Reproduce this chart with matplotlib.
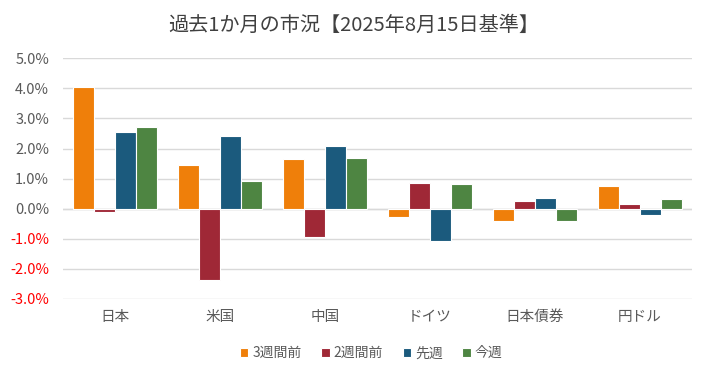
import numpy as np
import matplotlib.pyplot as plt
from matplotlib.ticker import FuncFormatter

plt.rcParams['font.family'] = ['Noto Sans CJK JP', 'DejaVu Sans']

# データ（%）
categories = ['日本', '米国', '中国', 'ドイツ', '日本債券', '円ドル']
series_names = ['3週間前', '2週間前', '先週', '今週']
week3 = [4.06, 1.44, 1.66, -0.29, -0.40, 0.76]
week2 = [-0.10, -2.38, -0.95, 0.85, 0.25, 0.17]
week1 = [2.54, 2.40, 2.10, -1.07, 0.35, -0.20]
week0 = [2.73, 0.93, 1.68, 0.81, -0.40, 0.33]
colors = ['#ef7f0a', '#9f2836', '#1b5a7d', '#4e8542']

fig = plt.figure(figsize=(7.07, 3.76), dpi=100)
ax = fig.add_axes([0.089, 0.205, 0.89, 0.64])

x = np.arange(len(categories))
w = 0.2
for i, (vals, name, c) in enumerate(zip([week3, week2, week1, week0], series_names, colors)):
    ax.bar(x + (i - 1.5) * w, vals, width=w, color=c, edgecolor='white',
           linewidth=0.8, label=name, zorder=3)

ax.set_xlim(-0.5, len(categories) - 0.5)
ax.set_ylim(-3, 5)
ax.set_yticks(np.arange(-3, 6, 1))
ax.yaxis.set_major_formatter(FuncFormatter(lambda v, p: f'{v:.1f}%'))
ax.grid(axis='y', color='#d9d9d9', linewidth=1, zorder=0)
ax.axhline(0, color='#d9d9d9', linewidth=1, zorder=1)
for s in ax.spines.values():
    s.set_visible(False)
ax.tick_params(length=0, labelsize=10.5, labelcolor='#595959')
ax.tick_params(axis='y', pad=10)
ax.tick_params(axis='x', pad=8)
ax.set_xticks(x)
ax.set_xticklabels(categories)
for lbl, v in zip(ax.get_yticklabels(), ax.get_yticks()):
    if v < 0:
        lbl.set_color('#ff0000')

fig.suptitle('過去1か月の市況【2025年8月15日基準】', y=0.96, fontsize=14.5, color='#404040')

ax.legend(loc='upper center', bbox_to_anchor=(0.49, -0.145), ncol=4, frameon=False,
          fontsize=10, handlelength=0.6, handleheight=0.6, handletextpad=0.3,
          columnspacing=1.4, labelcolor='#595959')

fig.savefig('out.png', dpi=100, facecolor='white')
